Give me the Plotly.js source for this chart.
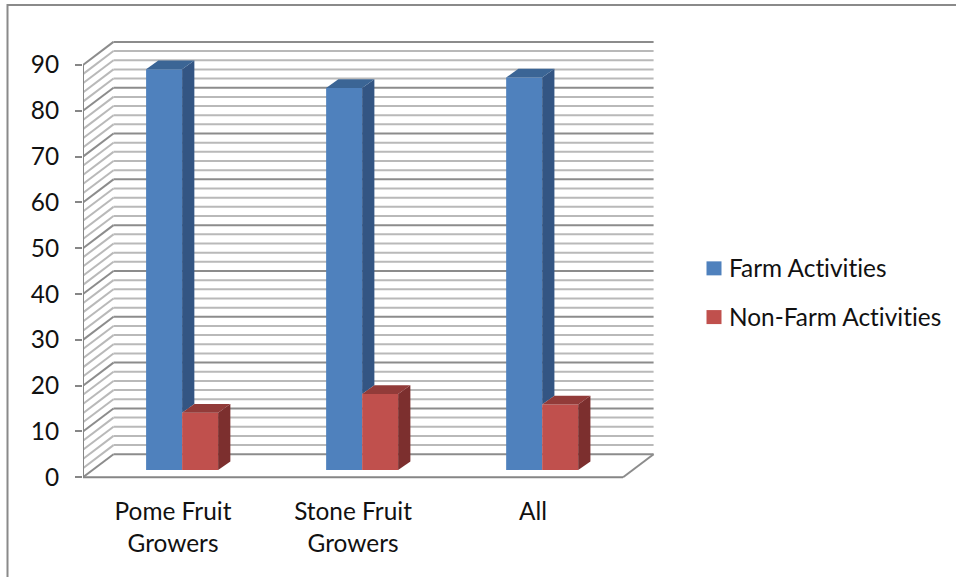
<!DOCTYPE html>
<html>
<head>
<meta charset="utf-8">
<script src="https://cdn.plot.ly/plotly-3.0.1.min.js"></script>
<style>html,body{margin:0;padding:0;background:#fff}#chart{width:956px;height:577px}
svg text{font-variant-ligatures:none;font-feature-settings:"liga" 0}</style>
</head>
<body>
<div id="chart"></div>
<script>
// Share of household income by activity, per grower group
const categories = ['Pome Fruit<br>Growers', 'Stone Fruit<br>Growers', 'All'];
const farmActivities = [87.5, 83.4, 85.7];
const nonFarmActivities = [12.5, 16.6, 14.3];
const yTicks = [0, 10, 20, 30, 40, 50, 60, 70, 80, 90];
const gridStep = 2;

// Oblique projection of the chart box, in axis units
const wallDX = 0.1694, wallDY = 5.03;
const barShiftX = 0.0505, barShiftY = 1.57;
const barDX = 0.068, barDY = 1.9;
const barWidth = 0.2;

const W = 956, H = 577;
const M = {l: 83, r: 296, t: 37, b: 96, autoexpand: false};
const xRange = [-0.5, 2.705];
const yRange = [-0.81, 96.1];

const FONT = 'Lato, Carlito, sans-serif';
const FONT_SIZE = 24.4;
const AXIS_GRAY = '#868686', MAJOR = '#8c8c8c', MINOR = '#b9b9b9';
const BLUE = '#4f81bd', BLUE_TOP = '#3b6595', BLUE_SIDE = '#335583';
const RED = '#c0504d', RED_TOP = '#923b39', RED_SIDE = '#7c2f2e';

const slots = categories.map((_, i) => i);

function seg(x1, y1, x2, y2, color, width) {
  return {type: 'line', layer: 'below', xref: 'x', yref: 'y', x0: x1, y0: y1, x1: x2, y1: y2,
          line: {color: color, width: width}};
}

// Back wall and side wall rules
const shapes = [];
for (let v = 0; v <= 90; v += gridStep) {
  const c = v % 10 === 0 ? MAJOR : MINOR;
  shapes.push(seg(-0.5, v, -0.5 + wallDX, v + wallDY, c, 2));
  shapes.push(seg(-0.5 + wallDX, v + wallDY, 2.5 + wallDX, v + wallDY, c, 2));
}
// Floor edge on the right
shapes.push(seg(2.5, 0, 2.5 + wallDX, wallDY, MAJOR, 2));

// Outer chart frame, left and top only
const px = p => (p - M.l) / (W - M.l - M.r);
const py = p => 1 - (p - M.t) / (H - M.t - M.b);
shapes.push({type: 'path', xref: 'paper', yref: 'paper', layer: 'below',
  path: `M${px(7.5)},${py(577)} L${px(7.5)},${py(5)} L${px(956)},${py(5)}`,
  line: {color: '#8a8a8a', width: 2}});

function poly(xs, ys, color) {
  return {type: 'scatter', x: xs.concat(xs[0]), y: ys.concat(ys[0]), mode: 'none', fill: 'toself',
          fillcolor: color, hoverinfo: 'skip', showlegend: false, cliponaxis: false};
}

const traces = [];
// Front faces
traces.push({type: 'bar', name: 'Farm Activities', legendgroup: 'farm',
  x: slots.map(i => i + barShiftX - barWidth / 2),
  y: farmActivities, base: slots.map(() => barShiftY), width: barWidth,
  marker: {color: BLUE, line: {width: 0}}, hoverinfo: 'y'});
traces.push({type: 'bar', name: 'Non-Farm Activities', legendgroup: 'nonfarm',
  x: slots.map(i => i + barShiftX + barWidth / 2),
  y: nonFarmActivities, base: slots.map(() => barShiftY), width: barWidth,
  marker: {color: RED, line: {width: 0}}, hoverinfo: 'y'});

// Top and side faces, derived from the same values
slots.forEach(i => {
  const mid = i + barShiftX, l = mid - barWidth, r = mid + barWidth;
  const blueTop = barShiftY + farmActivities[i], redTop = barShiftY + nonFarmActivities[i];
  // Blue side starts where the red bar's top edge hides it
  traces.push(poly([mid, mid + barDX, mid + barDX, mid],
                   [redTop, redTop + barDY, blueTop + barDY, blueTop], BLUE_SIDE));
  traces.push(poly([l, l + barDX, mid + barDX, mid],
                   [blueTop, blueTop + barDY, blueTop + barDY, blueTop], BLUE_TOP));
  traces.push(poly([r, r + barDX, r + barDX, r],
                   [barShiftY, barShiftY + barDY, redTop + barDY, redTop], RED_SIDE));
  traces.push(poly([mid, mid + barDX, r + barDX, r],
                   [redTop, redTop + barDY, redTop + barDY, redTop], RED_TOP));
});

// Front axis lines
traces.push({type: 'scatter', x: [-0.5, -0.5, 2.5], y: [90, 0, 0], mode: 'lines',
  line: {color: AXIS_GRAY, width: 2}, hoverinfo: 'skip', showlegend: false, cliponaxis: false});

const textFont = {family: FONT, size: FONT_SIZE, color: '#111'};
const layout = {
  width: W, height: H, margin: M, paper_bgcolor: '#fff', plot_bgcolor: 'rgba(0,0,0,0)',
  font: textFont, barmode: 'overlay', showlegend: true, shapes: shapes,
  legend: {x: px(689), y: py(245), xanchor: 'left', yanchor: 'top', bgcolor: 'rgba(0,0,0,0)',
           traceorder: 'grouped', tracegroupgap: 14, font: textFont},
  xaxis: {range: xRange, tickmode: 'array', tickvals: slots, ticktext: categories, tickangle: 0,
          showgrid: false, zeroline: false, showline: false, ticks: '', ticklabelstandoff: 14,
          tickfont: textFont, fixedrange: true},
  yaxis: {range: yRange, tickmode: 'array', tickvals: yTicks, showgrid: false, zeroline: false,
          showline: false, ticks: 'outside', ticklen: 7, tickwidth: 2, tickcolor: AXIS_GRAY,
          ticklabelstandoff: 11, tickfont: textFont, fixedrange: true}
};

Plotly.newPlot('chart', traces, layout, {displayModeBar: false}).then(() => {
  // Larger legend swatches, closer to their labels
  document.querySelectorAll('.legend .legendsymbols').forEach(g => {
    g.setAttribute('transform', 'translate(5,1)');
    g.querySelectorAll('path').forEach(p => p.setAttribute('d', 'M7.5,7H-7.5V-7H7.5Z'));
  });
});
</script>
</body>
</html>
